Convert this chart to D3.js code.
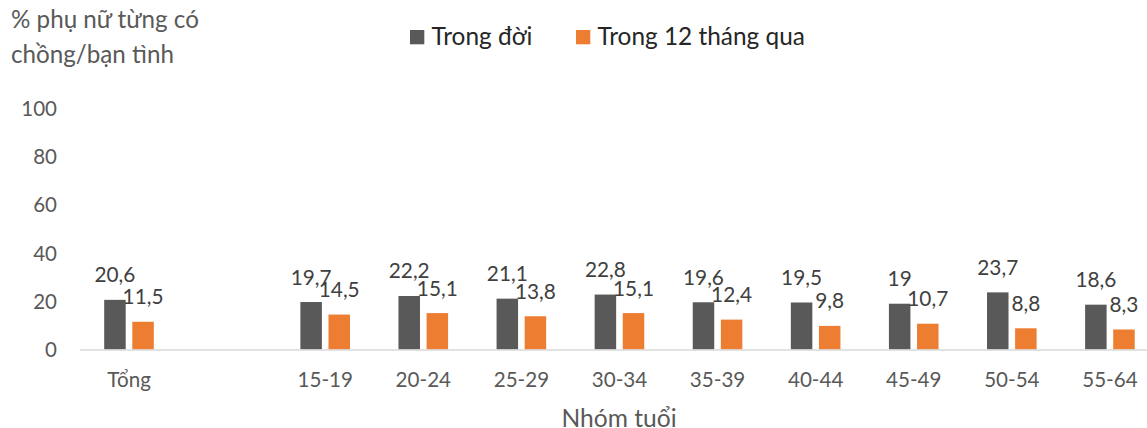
<!DOCTYPE html>
<html>
<head>
<meta charset="utf-8">
<script src="https://cdn.jsdelivr.net/npm/d3@7"></script>
<style>
  body { margin: 0; background: #fff; }
  text { font-family: Lato, "Open Sans", sans-serif; }
</style>
</head>
<body>
<div id="chart"></div>
<script>
// categories ("" is the empty slot between Tổng and the age groups)
var categories = ["Tổng", "", "15-19", "20-24", "25-29", "30-34", "35-39", "40-44", "45-49", "50-54", "55-64"];
var seriesNames = ["Trong đời", "Trong 12 tháng qua"];
var lifetime = [20.6, null, 19.7, 22.2, 21.1, 22.8, 19.6, 19.5, 19, 23.7, 18.6];
var last12 = [11.5, null, 14.5, 15.1, 13.8, 15.1, 12.4, 9.8, 10.7, 8.8, 8.3];
var yTicks = [0, 20, 40, 60, 80, 100];
var colors = ["#595959", "#ED7D31"];

var W = 1147, H = 428;
var plotL = 80, plotR = 1159, plotT = 108.5, plotB = 349.5;

var svg = d3.select("#chart").append("svg")
    .attr("width", W).attr("height", H);

var x0 = d3.scaleBand().domain(categories).range([plotL, plotR]);
var x1 = d3.scaleBand().domain(seriesNames)
    .range([24.2, 73.8]).paddingInner(0.235);
var y = d3.scaleLinear().domain([0, 100]).range([plotB, plotT]);

var rows = categories.map(function (c, i) {
  return { cat: c, vals: [lifetime[i], last12[i]] };
}).filter(function (d) { return d.cat !== ""; });

// y axis labels (no line)
svg.append("g").selectAll("text").data(yTicks).enter().append("text")
    .attr("x", 57).attr("y", function (d) { return y(d) + 7.5; })
    .attr("text-anchor", "end")
    .attr("fill", "#595959").style("font-size", "20.5px")
    .text(function (d) { return d; });

// bars
var groups = svg.append("g").selectAll("g").data(rows).enter().append("g")
    .attr("transform", function (d) { return "translate(" + x0(d.cat) + ",0)"; });

function pairs(d) {
  return d.vals.map(function (v, k) { return { s: seriesNames[k], v: v, k: k }; });
}

groups.selectAll("rect").data(pairs).enter().append("rect")
    .attr("x", function (d) { return x1(d.s); })
    .attr("width", x1.bandwidth())
    .attr("y", function (d) { return y(d.v); })
    .attr("height", function (d) { return plotB - y(d.v); })
    .attr("fill", function (d) { return colors[d.k]; });

groups.selectAll("text.lbl").data(pairs).enter().append("text").attr("class", "lbl")
    .attr("x", function (d) { return x1(d.s) + x1.bandwidth() / 2; })
    .attr("y", function (d) { return y(d.v) - 17.5; })
    .attr("text-anchor", "middle")
    .attr("fill", "#404040").style("font-size", "20.8px")
    .text(function (d) { return String(d.v).replace(".", ","); });

// x axis line
svg.append("line")
    .attr("x1", plotL).attr("x2", W)
    .attr("y1", plotB + 0.5).attr("y2", plotB + 0.5)
    .attr("stroke", "#D9D9D9").attr("stroke-width", 1.5);

// category labels
svg.append("g").selectAll("text").data(rows).enter().append("text")
    .attr("x", function (d) { return x0(d.cat) + x0.bandwidth() / 2; })
    .attr("y", 386.5)
    .attr("text-anchor", "middle")
    .attr("fill", "#595959").style("font-size", "20.6px")
    .text(function (d) { return d.cat; });

// axis titles
svg.append("text")
    .attr("x", 619).attr("y", 427)
    .attr("text-anchor", "middle")
    .attr("fill", "#595959").style("font-size", "24.6px")
    .text("Nhóm tuổi");

var yTitle = svg.append("text")
    .attr("fill", "#595959").style("font-size", "24.2px");
yTitle.append("tspan").attr("x", 11).attr("y", 28).text("% phụ nữ từng có");
yTitle.append("tspan").attr("x", 11).attr("y", 63).text("chồng/bạn tình");

// legend
var legX = [410, 576];
var leg = svg.append("g").selectAll("g").data(seriesNames).enter().append("g")
    .attr("transform", function (d, i) { return "translate(" + legX[i] + ",30)"; });
leg.append("rect").attr("width", 14.3).attr("height", 14.3)
    .attr("fill", function (d, i) { return colors[i]; });
leg.append("text").attr("x", 21.5).attr("y", 15)
    .attr("fill", "#262626").style("font-size", "24.4px")
    .text(function (d) { return d; });
</script>
</body>
</html>
